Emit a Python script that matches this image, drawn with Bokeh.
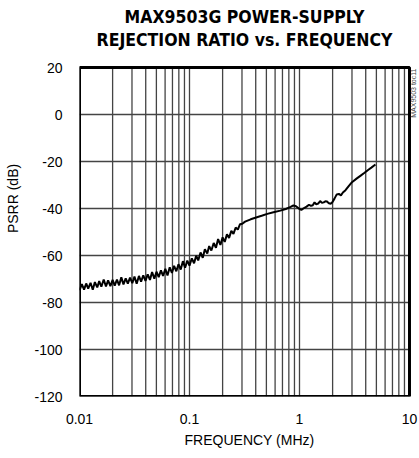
import math
from bokeh.plotting import figure
from bokeh.models import Range1d, FixedTicker, NumeralTickFormatter, CustomJSTickFormatter, Label
from bokeh.embed import file_html
from bokeh.resources import INLINE

# ---- data ----
freq_mhz = [
    0.0100, 0.0105, 0.0110, 0.0115, 0.0120, 0.0126, 0.0132, 0.0138, 0.0145, 0.0151,
    0.0158, 0.0166, 0.0174, 0.0182, 0.0191, 0.0200, 0.0209, 0.0219, 0.0229, 0.0240,
    0.0251, 0.0263, 0.0275, 0.0288, 0.0302, 0.0316, 0.0331, 0.0347, 0.0363, 0.0380,
    0.0398, 0.0417, 0.0437, 0.0457, 0.0479, 0.0501, 0.0525, 0.0550, 0.0575, 0.0603,
    0.0631, 0.0661, 0.0692, 0.0724, 0.0759, 0.0794, 0.0832, 0.0871, 0.0912, 0.0955,
    0.100, 0.105, 0.110, 0.115, 0.120, 0.126, 0.132, 0.138, 0.145, 0.151,
    0.158, 0.166, 0.174, 0.182, 0.191, 0.200, 0.209, 0.219, 0.229, 0.240,
    0.251, 0.263, 0.275, 0.288, 0.302,
    0.32, 0.36, 0.41, 0.46, 0.51, 0.58, 0.67, 0.75, 0.83, 0.88,
    0.93, 0.98, 1.04, 1.10, 1.16, 1.22, 1.27, 1.32, 1.37, 1.42,
    1.48, 1.54, 1.60, 1.66, 1.72, 1.78, 1.85, 1.92, 1.99, 2.08,
    2.18, 2.28, 2.38, 2.48, 2.62, 2.80, 3.00, 3.30, 3.60, 3.90,
    4.20, 4.50, 4.90,
]
psrr_db = [
    -74.8, -72.2, -74.5, -71.9, -74.1, -71.6, -74.6, -71.3, -73.6, -70.9,
    -73.3, -70.2, -73.2, -70.6, -73.0, -70.4, -72.8, -70.2, -72.7, -69.3,
    -72.3, -69.7, -72.0, -69.4, -71.8, -69.0, -72.0, -68.7, -71.1, -68.4,
    -70.8, -68.0, -70.4, -67.0, -69.9, -66.9, -69.2, -66.3, -68.7, -65.7,
    -68.5, -65.0, -67.4, -64.4, -66.7, -63.7, -66.0, -62.4, -65.2, -62.2,
    -64.3, -61.2, -63.3, -60.1, -62.1, -58.7, -61.0, -57.3, -59.2, -56.0,
    -57.9, -54.7, -56.7, -53.0, -55.5, -52.3, -54.2, -51.0, -52.5, -49.5,
    -50.8, -48.1, -49.0, -46.7, -46.5,
    -45.6, -44.6, -43.7, -43.0, -42.3, -41.6, -40.9, -40.2, -39.3, -38.7,
    -39.0, -39.9, -40.6, -39.8, -39.2, -38.4, -38.9, -38.6, -37.4, -38.2,
    -37.9, -36.8, -37.6, -37.4, -36.9, -37.0, -37.8, -38.0, -37.3, -35.8,
    -34.0, -33.8, -34.4, -33.2, -32.2, -30.5, -28.8, -27.3, -26.0, -24.8,
    -23.6, -22.6, -21.3,
]
x_ticks = [0.01, 0.1, 1, 10]
y_ticks = [-120, -100, -80, -60, -40, -20, 0, 20]
grid_x = [m * d for d in (0.01, 0.1, 1) for m in range(1, 10)] + [10]
title_lines = ["MAX9503G POWER-SUPPLY", "REJECTION RATIO vs. FREQUENCY"]
x_label = "FREQUENCY (MHz)"
y_label = "PSRR (dB)"
side_note = "MAX9503 toc11"

# ---- layout constants (pixels) ----
W, H = 419, 458
BOX_L, BOX_R, BOX_T, BOX_B = 79, 409, 67, 396   # chart box in canvas pixels
XMIN, XMAX = 0.01, 10.0
YMIN, YMAX = -120.0, 20.0
px_per_dec = (BOX_R - BOX_L) / (math.log10(XMAX) - math.log10(XMIN))
px_per_db = (BOX_B - BOX_T) / (YMAX - YMIN)
x_end = 10 ** (math.log10(XMAX) + (W - BOX_R) / px_per_dec)
y_end = YMAX + BOX_T / px_per_db

def y_at(py):   # canvas pixel row -> data y
    return YMAX + (BOX_T - py) / px_per_db

def x_at(px):   # canvas pixel column -> data x
    return 10 ** (math.log10(XMIN) + (px - BOX_L) / px_per_dec)

FONT = "'Liberation Sans', Arial, sans-serif"
TFONT = "'DejaVu Sans Condensed', 'Liberation Sans', sans-serif"

p = figure(width=W, height=H, x_axis_type="log",
           x_range=Range1d(XMIN, x_end), y_range=Range1d(YMIN, y_end),
           output_backend="svg", toolbar_location=None,
           min_border_left=BOX_L, min_border_right=0,
           min_border_top=0, min_border_bottom=H - BOX_B)
p.background_fill_color = "white"
p.border_fill_color = "white"
p.outline_line_color = None
p.grid.visible = False

GRID = "#444444"
# grid lines (inside chart box only)
p.segment(x0=grid_x, y0=[YMIN] * len(grid_x), x1=grid_x, y1=[YMAX] * len(grid_x),
          line_color=GRID, line_width=1.3)
p.segment(x0=[XMIN] * len(y_ticks), y0=y_ticks, x1=[XMAX] * len(y_ticks), y1=y_ticks,
          line_color=GRID, line_width=1.3)

# data
p.line(freq_mhz, psrr_db, line_color="black", line_width=2)

# chart box
p.quad(left=[XMIN], right=[XMAX], bottom=[YMIN], top=[YMAX],
       fill_color=None, line_color="black", line_width=3)

# axes
p.xaxis.ticker = FixedTicker(ticks=x_ticks)
p.xaxis.formatter = NumeralTickFormatter(format="0.[00]")
p.yaxis.ticker = FixedTicker(ticks=y_ticks)
p.yaxis.formatter = CustomJSTickFormatter(code="return String(tick);")
for ax in (p.xaxis[0], p.yaxis[0]):
    ax.axis_line_color = None
    ax.major_tick_line_color = None
    ax.minor_tick_line_color = None
    ax.major_tick_out = 0
    ax.major_tick_in = 0
    ax.major_label_text_font = FONT
    ax.major_label_text_font_size = "14px"
    ax.major_label_text_color = "black"
    ax.axis_label_text_font = FONT
    ax.axis_label_text_font_size = "14px"
    ax.axis_label_text_font_style = "normal"
    ax.axis_label_text_color = "black"
p.xaxis.axis_label = x_label
p.yaxis.axis_label = y_label
p.xaxis.major_label_standoff = 17
p.xaxis.axis_label_standoff = 5
p.yaxis.major_label_standoff = 17
p.yaxis.axis_label_standoff = 10

# title (two lines, centered over the chart box)
xc = x_at((BOX_L + BOX_R) / 2)
for line, py in zip(title_lines, (16, 39)):
    p.add_layout(Label(x=xc, y=y_at(py), text=line, text_align="center",
                       text_baseline="middle", text_font=TFONT, text_font_size="17.5px",
                       text_font_style="bold", text_color="black"))
# side note (reads bottom-to-top, top end at the chart box top)
p.add_layout(Label(x=x_at(412.5), y=y_at(68), text=side_note, angle=math.pi / 2,
                   text_align="right", text_baseline="middle", text_font=FONT,
                   text_font_size="7px", text_color="#444444"))

open("out.html", "w").write(file_html(p, INLINE))
